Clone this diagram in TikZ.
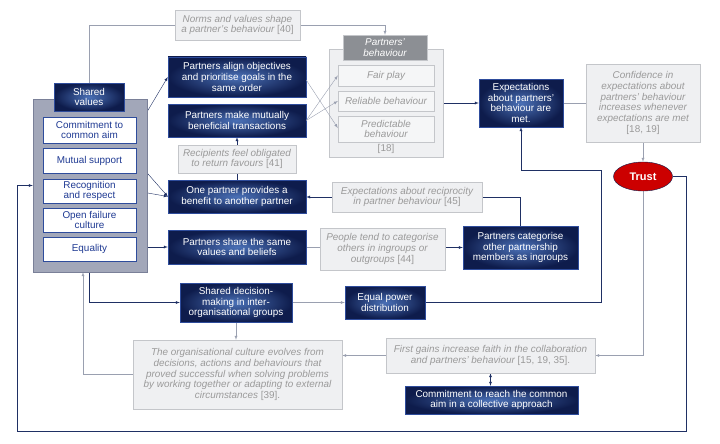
\documentclass[tikz,border=0pt]{standalone}
\usepackage{fontspec}
\setmainfont{Liberation Sans}
\usepackage{xcolor}
\usepackage{tikz}
\usetikzlibrary{positioning,shapes.geometric,backgrounds}

\definecolor{navyout}{HTML}{0E1C4C}
\definecolor{navyin}{HTML}{4A70B6}
\definecolor{navyedge}{HTML}{2E4C9C}
\definecolor{navyline}{HTML}{1F3064}
\definecolor{greyline}{HTML}{9AA0B0}
\definecolor{notefill}{HTML}{EFF0F2}
\definecolor{noteedge}{HTML}{C4C6CA}
\definecolor{notetext}{HTML}{9A9A9A}
\definecolor{panelfill}{HTML}{A2A7B9}
\definecolor{paneledge}{HTML}{7A8098}
\definecolor{valuetext}{HTML}{1F3A93}
\definecolor{headfill}{HTML}{8C8F94}
\definecolor{trustred}{HTML}{CC0000}

\begin{document}
\begin{tikzpicture}[x=1pt,y=-1pt,
  font=\fontsize{9.9}{10.8}\selectfont,
  dark/.style={draw=navyedge, inner color=navyin, outer color=navyout, text=white, align=center, inner sep=1pt},
  pale/.style={draw=noteedge, fill=notefill, text=notetext, font=\fontsize{9.9}{10.8}\selectfont\itshape, align=center, inner sep=1pt},
  value/.style={draw=navyedge, fill=white, text=valuetext, align=center, minimum width=93pt, inner sep=1pt},
  link/.style={draw=navyline, -latex},
  glink/.style={draw=greyline, -latex}]
\useasboundingbox (0,0) rectangle (720,444);

% left panel with the shared values
\node[draw=paneledge, fill=panelfill, minimum width=114pt, minimum height=173pt] (panel) at (90,185.5) {};
\node[dark, minimum width=70pt, minimum height=28pt] (shared) at (89,97) {Shared\\values};
\node[value, minimum height=26pt] (commit) at (89.5,130) {Commitment to\\common aim};
\node[value, minimum height=25pt] (mutual) at (89.5,160.5) {Mutual support};
\node[value, minimum height=24pt] (recog) at (89.5,191) {Recognition\\and respect};
\node[value, minimum height=24pt] (openf) at (89.5,220) {Open failure\\culture};
\node[value, minimum height=24pt] (equal) at (89.5,249) {Equality};

% notes
\node[pale, minimum width=125pt, minimum height=30pt] (norms) at (237.5,25) {Norms and values shape\\a partner's behaviour {\upshape[40]}};
\node[pale, minimum width=118pt, minimum height=28pt] (recip) at (237,159) {Recipients feel obligated\\to return favours {\upshape[41]}};
\node[pale, minimum width=150pt, minimum height=30pt] (expr) at (407,197) {Expectations about reciprocity\\in partner behaviour {\upshape[45]}};
\node[pale, minimum width=125pt, minimum height=42pt] (people) at (382.5,249) {People tend to categorise\\others in ingroups or\\outgroups {\upshape[44]}};
\node[pale, minimum width=114pt, minimum height=78pt] (confid) at (643,103) {Confidence in\\expectations about\\partners' behaviour\\increases whenever\\expectations are met\\{\upshape[18, 19]}};
\node[pale, minimum width=209pt, minimum height=69pt] (culture) at (237.5,374.5) {The organisational culture evolves from\\decisions, actions and behaviours that\\proved successful when solving problems\\by working together or adapting to external\\circumstances {\upshape[39].}};
\node[pale, minimum width=209pt, minimum height=35pt] (gains) at (490.5,355.5) {First gains increase faith in the collaboration\\and partners' behaviour {\upshape[15, 19, 35].}};

% partners' behaviour
\node[draw=noteedge, fill=notefill, minimum width=114pt, minimum height=108pt] (pbpanel) at (386,103) {};
\node[draw=noteedge, fill=headfill, text=white, font=\fontsize{9.9}{10.8}\selectfont\itshape, align=center, minimum width=84pt, minimum height=25pt, inner sep=1pt] (pbhead) at (385,47.5) {Partners'\\behaviour};
\node[pale, fill=notefill!60, minimum width=96pt, minimum height=21pt] (fair) at (386,75.5) {Fair play};
\node[pale, fill=notefill!60, minimum width=96pt, minimum height=20pt] (reliable) at (386,101) {Reliable behaviour};
\node[pale, fill=notefill!60, minimum width=96pt, minimum height=26pt] (predict) at (386,129) {Predictable\\behaviour};
\node[text=notetext, inner sep=0pt] (cite18) at (386,149) {[18]};

% dark boxes
\node[dark, minimum width=138pt, minimum height=40pt] (align) at (237,77) {Partners align objectives\\and prioritise goals in the\\same order};
\node[dark, minimum width=138pt, minimum height=33pt] (mutually) at (237,120.5) {Partners make mutually\\beneficial transactions};
\node[dark, minimum width=138pt, minimum height=33pt] (onep) at (237,196.5) {One partner provides a\\benefit to another partner};
\node[dark, minimum width=138pt, minimum height=34pt] (share) at (237,247) {Partners share the same\\values and beliefs};
\node[dark, minimum width=115pt, minimum height=43pt] (categ) at (520.5,247.5) {Partners categorise\\other partnership\\members as ingroups};
\node[dark, minimum width=84pt, minimum height=48pt] (expmet) at (521,103) {Expectations\\about partners'\\behaviour are\\met.};
\node[dark, minimum width=112pt, minimum height=39pt] (decision) at (236,302.5) {Shared decision-\\making in inter-\\organisational groups};
\node[dark, minimum width=80pt, minimum height=33pt] (power) at (385,302.5) {Equal power\\distribution};
\node[dark, minimum width=173pt, minimum height=28pt] (reach) at (491.5,400) {Commitment to reach the common\\aim in a collective approach};
\node[ellipse, draw=navyout, fill=trustred, text=white, font=\fontsize{11}{12}\selectfont\bfseries, minimum width=59pt, minimum height=29pt, inner sep=0pt] (trust) at (643,176.5) {Trust};

% bend points
\coordinate (loopR) at (686,431);
\coordinate (loopL) at (17,431);
\coordinate (powerR) at (601,170);

\begin{scope}[on background layer]
\draw[glink] (shared.north) |- (pbhead.north |- norms.center) -- (pbhead.north);
\draw[link] (commit.east) -- (align.west);
\draw[link] (mutual.east) -- (onep.west);
\draw[link] (recog.east) -- (onep.west);
\draw[link] (share.west -| panel.east) -- (share.west);
\draw[navyline] (onep.north) -- (recip.south);
\draw[link] (recip.north) -- (mutually.south);
\draw[link] (pbpanel.east) -- (expmet.west);
\draw[greyline] (expmet.east) -- (confid.west);
\draw[glink] (confid.south) -- (trust.north);
\draw[link] (expr.west) -- (expr.west -| onep.east);
\draw[navyline] (categ.north) |- (expr.east);
\draw[greyline] (share.east) -- (share.east -| people.west);
\draw[link] (categ.west -| people.east) -- (categ.west);
\draw[link] ([xshift=-1pt]panel.south) |- (decision.west);
\draw[glink] (decision.east) -- (power.west);
\draw[link] (power.east) -| (powerR) -| (expmet.south);
\draw[glink] (decision.south) -- (decision.south |- culture.north);
\draw[glink] (culture.west) -| ([xshift=-7pt]panel.south);
\draw[glink] (gains.west) -- (gains.west -| culture.east);
\draw[glink] (trust.south) |- (gains.east);
\draw[navyline, latex-latex] (gains.south) -- (gains.south |- reach.north);
\draw[link] (trust.east) -| (loopR) -- (loopL) |- (panel.west);
\end{scope}
\draw[glink] ([yshift=-3pt]align.east) -- ([yshift=1pt]predict.west);
\draw[glink] (mutually.east) -- (fair.west);
\draw[glink] (mutually.east) -- (reliable.west);
\end{tikzpicture}
\end{document}
